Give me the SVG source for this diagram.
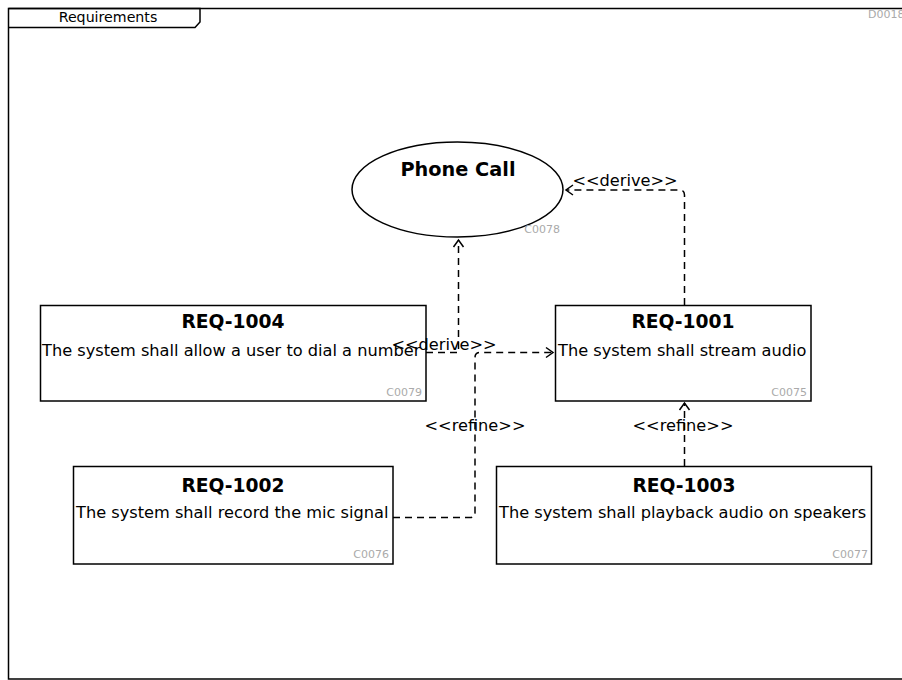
<svg xmlns="http://www.w3.org/2000/svg" width="902" height="680" viewBox="0 0 902 680">
<style>
text{font-family:"DejaVu Sans",sans-serif;fill:#000}
.t{font-size:18.7px;font-weight:bold;text-anchor:middle}
.b{font-size:16.2px}
.id{font-size:11px;fill:#aaa;text-anchor:end}
.lbl{font-size:16.2px;text-anchor:middle}
.n{fill:#fff;stroke:#000;stroke-width:1.5}
.c{fill:none;stroke:#000;stroke-width:1.5;stroke-dasharray:7,5}
.ah{fill:none;stroke:#000;stroke-width:1.5}
</style>
<rect x="0" y="0" width="902" height="680" fill="#fff"/>
<g id="frame">
<rect x="8.5" y="8.5" width="1000" height="670.5" fill="none" stroke="#000" stroke-width="1.5"/>
<path d="M8.5 8.5 H200 V22 L195 27.5 H8.5" fill="none" stroke="#000" stroke-width="1.5"/>
<text x="108" y="22" style="font-size:14.2px" text-anchor="middle">Requirements</text>
<text x="868" y="18" style="font-size:11px;fill:#aaa">D0018</text>
</g>
<g id="C0078">
<ellipse cx="457.5" cy="189.5" rx="105.5" ry="47.5" class="n"/>
<text x="458" y="176" class="t" style="font-size:19.3px">Phone Call</text>
<text x="560" y="233" class="id">C0078</text>
</g>
<g id="C0079">
<rect x="40.5" y="305.5" width="385.5" height="95.5" class="n"/>
<text x="233" y="328" class="t">REQ-1004</text>
<text x="42" y="356" class="b">The system shall allow a user to dial a number</text>
<text x="422" y="396" class="id">C0079</text>
</g>
<g id="C0075">
<rect x="555.5" y="305.5" width="255.5" height="95.5" class="n"/>
<text x="683" y="328" class="t">REQ-1001</text>
<text x="558" y="356" class="b">The system shall stream audio</text>
<text x="807" y="396" class="id">C0075</text>
</g>
<g id="C0076">
<rect x="73.5" y="466.5" width="319.5" height="97.5" class="n"/>
<text x="233" y="492" class="t">REQ-1002</text>
<text x="76" y="518" class="b">The system shall record the mic signal</text>
<text x="389" y="558" class="id">C0076</text>
</g>
<g id="C0077">
<rect x="496.5" y="466.5" width="375" height="97.5" class="n"/>
<text x="684" y="492" class="t">REQ-1003</text>
<text x="499" y="518" class="b">The system shall playback audio on speakers</text>
<text x="868" y="558" class="id">C0077</text>
</g>
<g id="connectors">
<path d="M684.5 305 V195 Q684.5 190 679.5 190 H566" class="c"/>
<path d="M573 185 L566 190 L573 195" class="ah"/>
<text x="625" y="186" class="lbl">&lt;&lt;derive&gt;&gt;</text>
<path d="M426 352.5 H458.5 V240" class="c"/>
<path d="M453.5 247 L458.5 240 L463.5 247" class="ah"/>
<text x="444" y="350" class="lbl">&lt;&lt;derive&gt;&gt;</text>
<path d="M393 517.5 H470 Q475 517.5 475 512.5 V357.5 Q475 352.5 480 352.5 H553" class="c"/>
<path d="M546 347.5 L553 352.5 L546 357.5" class="ah"/>
<text x="475" y="431" class="lbl">&lt;&lt;refine&gt;&gt;</text>
<path d="M684.5 466 V403" class="c"/>
<path d="M679.5 410 L684.5 403 L689.5 410" class="ah"/>
<text x="683" y="431" class="lbl">&lt;&lt;refine&gt;&gt;</text>
</g>
</svg>
